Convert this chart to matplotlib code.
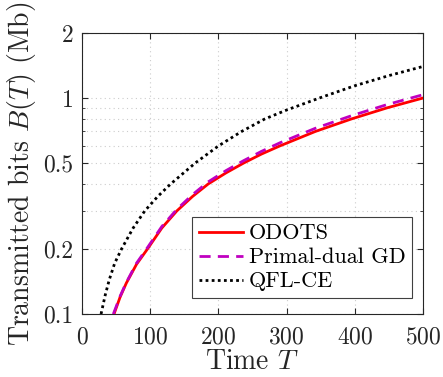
import matplotlib
matplotlib.use("Agg")
import matplotlib.pyplot as plt
from matplotlib.ticker import FixedLocator, FixedFormatter, LogLocator, NullFormatter

plt.rcParams['font.family'] = ['cmr10', 'DejaVu Serif']
plt.rcParams['mathtext.fontset'] = 'cm'
plt.rcParams['axes.formatter.use_mathtext'] = True

# Data
T_odots = [47, 56, 65, 80, 96, 117, 139, 162, 185, 211, 237, 263, 290, 342, 395, 447, 500]
B_odots = [0.1, 0.12, 0.139, 0.17, 0.2, 0.25, 0.3, 0.35, 0.4, 0.45, 0.5, 0.55, 0.6, 0.7, 0.8, 0.9, 1.0]

T_pd = [46, 56, 65, 80, 96, 117, 139, 162, 185, 211, 237, 263, 290, 342, 395, 447, 500]
B_pd = [0.1, 0.121, 0.14, 0.172, 0.203, 0.254, 0.305, 0.357, 0.409, 0.461, 0.513, 0.566, 0.62, 0.724, 0.828, 0.932, 1.036]

T_qfl = [28, 34, 40, 48, 58, 75, 92, 111, 130, 166, 200, 234, 268, 300, 350, 400, 450, 500]
B_qfl = [0.1, 0.122, 0.144, 0.172, 0.2, 0.25, 0.3, 0.35, 0.4, 0.5, 0.6, 0.7, 0.8, 0.88, 1.005, 1.14, 1.27, 1.40]

x_ticks = [0, 100, 200, 300, 400, 500]
y_ticks = [0.1, 0.2, 0.5, 1, 2]
y_tick_labels = ['0.1', '0.2', '0.5', '1', '2']

fig = plt.figure(figsize=(4.43, 3.77), dpi=100)
ax = fig.add_axes([0.185, 0.167, 0.77, 0.7455])

ax.plot(T_odots, B_odots, color='#FF0000', lw=2.0, label='ODOTS', zorder=3)
ax.plot(T_pd, B_pd, color='#C000C0', lw=2.0, ls=(0, (4, 2.6)), label='Primal-dual GD', zorder=4)
ax.plot(T_qfl, B_qfl, color='black', lw=2.0, ls=(0, (1, 1.2)), label='QFL-CE', zorder=3)

ax.set_yscale('log')
ax.set_xlim(0, 500)
ax.set_ylim(0.1, 2)
ax.xaxis.set_major_locator(FixedLocator(x_ticks))
ax.yaxis.set_major_locator(FixedLocator(y_ticks))
ax.yaxis.set_major_formatter(FixedFormatter(y_tick_labels))
ax.yaxis.set_minor_locator(LogLocator(base=10, subs=[0.2, 0.3, 0.4, 0.5, 0.6, 0.7, 0.8, 0.9, 1.0], numticks=20))
ax.yaxis.set_minor_formatter(NullFormatter())

ax.grid(True, which='major', color='#CCCCCC', ls=(0, (1, 3)), lw=0.8)
ax.grid(True, which='minor', axis='y', color='#CCCCCC', ls=(0, (1, 3)), lw=0.8)
ax.set_axisbelow(True)

dark = '#262626'
ax.tick_params(which='both', direction='in', top=True, right=True, colors=dark, labelsize=17)
ax.tick_params(which='major', length=4, width=0.8)
ax.tick_params(which='minor', length=2, width=0.6)
for s in ax.spines.values():
    s.set_color(dark)
    s.set_linewidth(0.8)
ax.tick_params(axis='x', pad=9)
ax.tick_params(axis='y', pad=6)

ax.set_xlabel('Time $T$', fontsize=20, color=dark, labelpad=0)
ax.set_ylabel('Transmitted bits $B(T)$ (Mb)', fontsize=20, color=dark, labelpad=4)

leg = ax.legend(loc='lower right', bbox_to_anchor=(0.9677, 0.057), borderaxespad=0,
                fontsize=16, frameon=True, fancybox=False,
                edgecolor='#404040', framealpha=1, borderpad=0.3, labelspacing=0.2,
                handlelength=2.0, handletextpad=0.25)
leg.get_frame().set_linewidth(0.8)

fig.savefig('out.png', dpi=100)
